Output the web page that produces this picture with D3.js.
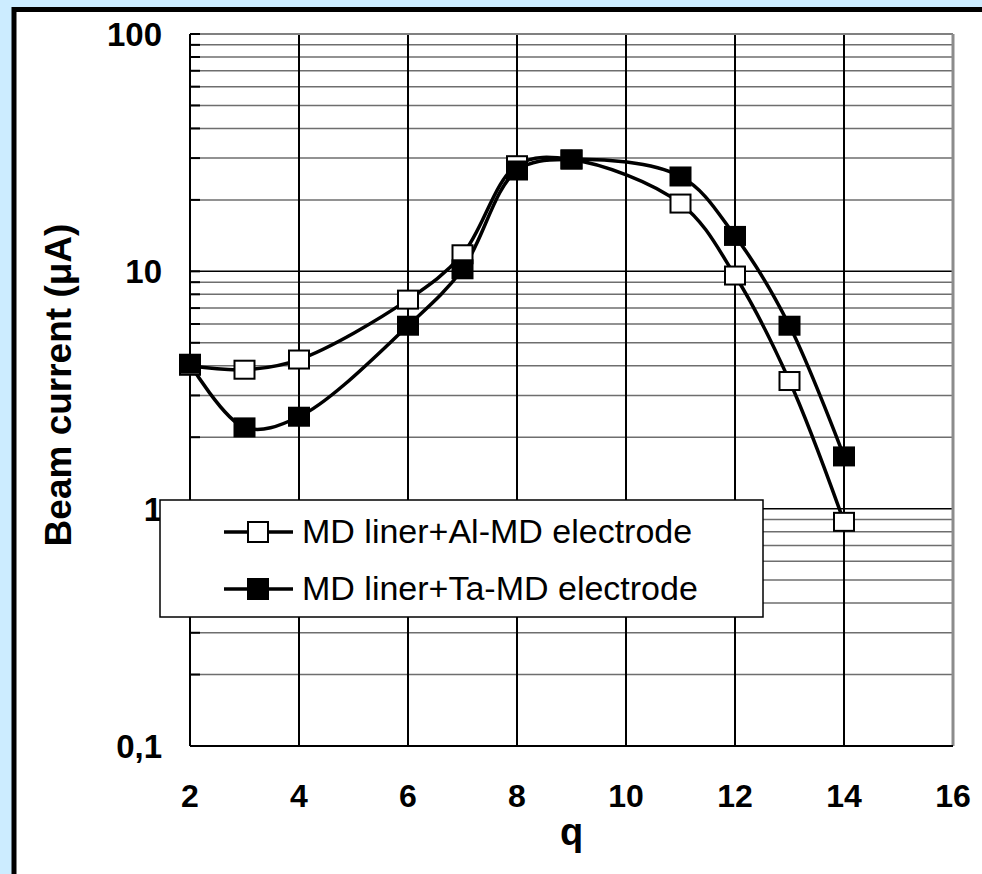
<!DOCTYPE html>
<html>
<head>
<meta charset="utf-8">
<script src="https://cdn.jsdelivr.net/npm/d3@7"></script>
<style>
  html, body { margin: 0; padding: 0; background: #ccecff; }
  svg { display: block; font-family: "Liberation Sans", Arial, sans-serif; }
</style>
</head>
<body>
<svg id="chart" width="982" height="874"></svg>
<script>
// data
const qValues = [2, 3, 4, 6, 7, 8, 9, 11, 12, 13, 14];
const alSeries = [4.0, 3.85, 4.25, 7.6, 11.8, 28, 29.6, 19.3, 9.6, 3.45, 0.88];
const taSeries = [4.08, 2.2, 2.44, 5.9, 10.2, 26.6, 29.6, 25.1, 14.1, 5.9, 1.66];
const seriesNames = ["MD liner+Al-MD electrode", "MD liner+Ta-MD electrode"];
const xTicks = [2, 4, 6, 8, 10, 12, 14, 16];
const yTicks = [0.1, 1, 10, 100];
const yTickLabels = ["0,1", "1", "10", "100"];

const svg = d3.select("#chart");

// frame
svg.append("rect")
  .attr("x", 14).attr("y", 9.5)
  .attr("width", 1000).attr("height", 900)
  .attr("fill", "#fff")
  .attr("stroke", "#000")
  .attr("stroke-width", 5);

const pLeft = 190, pRight = 953, pTop = 34, pBottom = 746;

const x = d3.scaleLinear().domain([2, 16]).range([pLeft, pRight]);
const y = d3.scaleLog().domain([0.1, 100]).range([pBottom, pTop]);

// minor values in each decade
const minor = [];
[0.1, 1, 10].forEach(d => {
  for (let k = 2; k <= 9; k++) minor.push(d * k);
});

const grid = svg.append("g");

// horizontal grid
grid.selectAll("line.minor")
  .data(minor)
  .enter()
  .append("line")
  .attr("x1", pLeft).attr("x2", pRight)
  .attr("y1", d => y(d)).attr("y2", d => y(d))
  .attr("stroke", "#6e6e6e")
  .attr("stroke-width", 1.5);

grid.selectAll("line.major")
  .data([1, 10])
  .enter()
  .append("line")
  .attr("x1", pLeft).attr("x2", pRight)
  .attr("y1", d => y(d)).attr("y2", d => y(d))
  .attr("stroke", "#000")
  .attr("stroke-width", 1.5);

// vertical grid
grid.selectAll("line.v")
  .data(xTicks.slice(1, -1))
  .enter()
  .append("line")
  .attr("x1", d => x(d)).attr("x2", d => x(d))
  .attr("y1", pTop).attr("y2", pBottom)
  .attr("stroke", "#000")
  .attr("stroke-width", 2);

// plot border: top/right gray, left/bottom black
svg.append("line").attr("x1", pLeft).attr("x2", pRight).attr("y1", pTop).attr("y2", pTop)
  .attr("stroke", "#808080").attr("stroke-width", 2);
svg.append("line").attr("x1", pRight).attr("x2", pRight).attr("y1", pTop).attr("y2", pBottom)
  .attr("stroke", "#8c8c8c").attr("stroke-width", 3);
svg.append("line").attr("x1", pLeft).attr("x2", pLeft).attr("y1", pTop).attr("y2", pBottom)
  .attr("stroke", "#000").attr("stroke-width", 2);
svg.append("line").attr("x1", pLeft).attr("x2", pRight).attr("y1", pBottom).attr("y2", pBottom)
  .attr("stroke", "#000").attr("stroke-width", 2);

// inner ticks on y axis
svg.selectAll("line.ytick")
  .data(minor.concat([1, 10, 100]))
  .enter()
  .append("line")
  .attr("x1", pLeft).attr("x2", pLeft + 10)
  .attr("y1", d => y(d)).attr("y2", d => y(d))
  .attr("stroke", "#000")
  .attr("stroke-width", 2);

// tick labels
svg.selectAll("text.ylab")
  .data(yTicks)
  .enter()
  .append("text")
  .attr("x", 162)
  .attr("y", d => y(d) + 12)
  .attr("text-anchor", "end")
  .attr("font-size", "33px")
  .attr("font-weight", "bold")
  .text((d, i) => yTickLabels[i]);

svg.selectAll("text.xlab")
  .data(xTicks)
  .enter()
  .append("text")
  .attr("x", d => x(d))
  .attr("y", 807)
  .attr("text-anchor", "middle")
  .attr("font-size", "32px")
  .attr("font-weight", "bold")
  .text(d => d);

// axis titles
svg.append("text")
  .attr("x", x(9))
  .attr("y", 845)
  .attr("text-anchor", "middle")
  .attr("font-size", "38px")
  .attr("font-weight", "bold")
  .text("q");

svg.append("text")
  .attr("transform", "translate(71,385) rotate(-90)")
  .attr("text-anchor", "middle")
  .attr("font-size", "37px")
  .attr("font-weight", "bold")
  .text("Beam current (μA)");

// lines
const line = d3.line()
  .x(d => x(d[0]))
  .y(d => y(d[1]))
  .curve(d3.curveCatmullRom.alpha(0.5));

const alData = qValues.map((q, i) => [q, alSeries[i]]);
const taData = qValues.map((q, i) => [q, taSeries[i]]);

const plot = svg.append("g");

[alData, taData].forEach(data => {
  plot.append("path")
    .datum(data)
    .attr("d", line)
    .attr("fill", "none")
    .attr("stroke", "#000")
    .attr("stroke-width", 3.5);
});

// markers (white first, black on top)
plot.selectAll("rect.al")
  .data(alData)
  .enter()
  .append("rect")
  .attr("x", d => x(d[0]) - 10)
  .attr("y", d => y(d[1]) - 9)
  .attr("width", 20).attr("height", 18)
  .attr("fill", "#fff")
  .attr("stroke", "#000")
  .attr("stroke-width", 2);

plot.selectAll("rect.ta")
  .data(taData)
  .enter()
  .append("rect")
  .attr("x", d => x(d[0]) - 11)
  .attr("y", d => y(d[1]) - 10)
  .attr("width", 22).attr("height", 20)
  .attr("fill", "#000");

// legend
const legend = svg.append("g");
legend.append("rect")
  .attr("x", 160).attr("y", 500)
  .attr("width", 603).attr("height", 117)
  .attr("fill", "#fff")
  .attr("stroke", "#000")
  .attr("stroke-width", 1.5);

const legendRows = [
  { name: seriesNames[0], fill: "#fff", cy: 532 },
  { name: seriesNames[1], fill: "#000", cy: 589 }
];

const row = legend.selectAll("g.row")
  .data(legendRows)
  .enter()
  .append("g")
  .attr("transform", d => `translate(0, ${d.cy})`);

row.append("line")
  .attr("x1", 224).attr("x2", 293)
  .attr("y1", 0).attr("y2", 0)
  .attr("stroke", "#000")
  .attr("stroke-width", 3.5);

row.append("rect")
  .attr("x", 248).attr("y", -10)
  .attr("width", 20).attr("height", 20)
  .attr("fill", d => d.fill)
  .attr("stroke", "#000")
  .attr("stroke-width", 2);

row.append("text")
  .attr("x", 302)
  .attr("y", 11)
  .attr("font-size", "34px")
  .text(d => d.name);
</script>
</body>
</html>
